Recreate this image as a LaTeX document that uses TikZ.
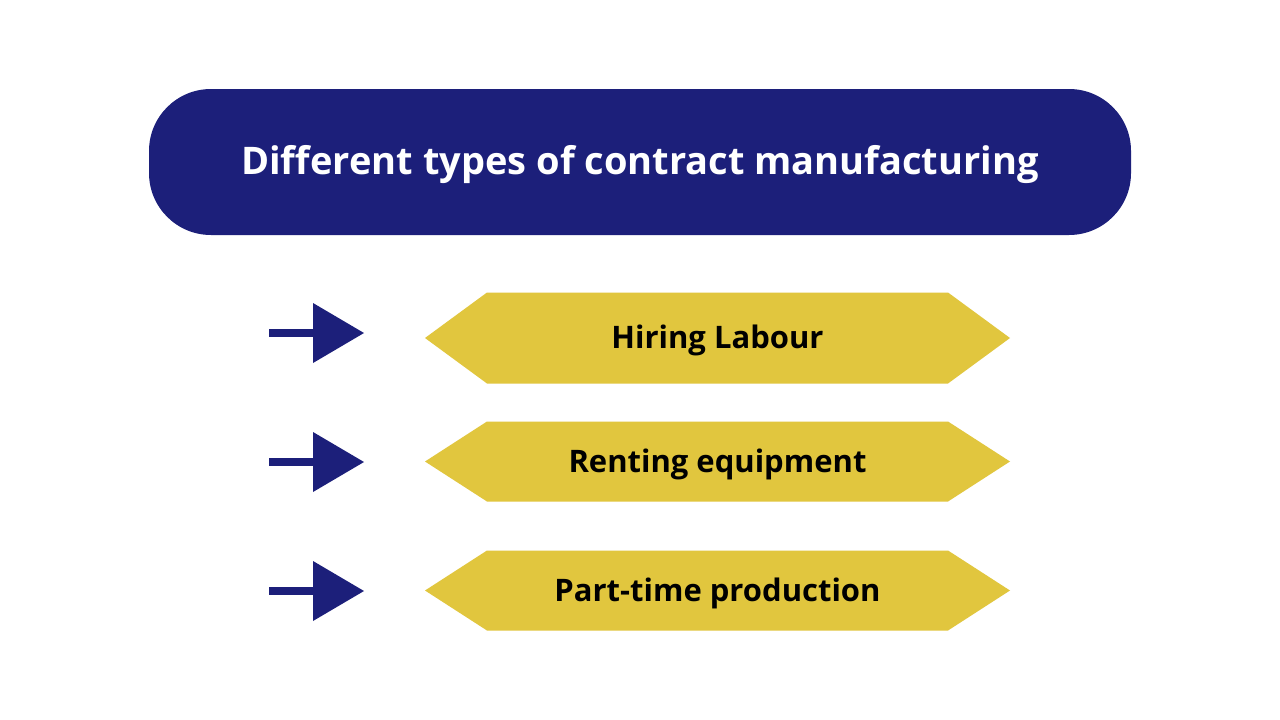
\documentclass[tikz,border=0pt]{standalone}
\usepackage{fontspec}
\setmainfont{Open Sans}
\definecolor{navy}{HTML}{1C1F7A}
\definecolor{gold}{HTML}{E1C63E}
\begin{document}
\begin{tikzpicture}[x=1pt,y=-1pt,
  titlebox/.style={fill=navy,rounded corners=62pt,minimum width=982pt,minimum height=146pt,inner sep=0pt},
  titletext/.style={text=white,font=\bfseries\fontsize{38}{44}\selectfont,inner sep=0pt},
  itemtext/.style={text=black,font=\bfseries\fontsize{31}{36}\selectfont,inner sep=0pt},
  hexfill/.style={fill=gold},
  arrowfill/.style={fill=navy}]
\useasboundingbox (0,0) rectangle (1280,720);
\fill[white] (0,0) rectangle (1280,720);
\node[titlebox] (title) at (640,162) {};
\node[titletext] (titlelabel) at (640,165) {Different types of contract manufacturing};
\foreach \y/\h/\ay/\t/\n in {338/45.5/333/Hiring Labour/a, 461.5/40/462/Renting equipment/b, 590.5/40/591/Part-time production/c}{
  \fill[hexfill] (425,\y) -- (487,\y-\h) -- (948,\y-\h) -- (1010,\y) -- (948,\y+\h) -- (487,\y+\h) -- cycle;
  \node[itemtext] (\n) at (717.5,\y+2.5) {\t};
  \fill[arrowfill] (269,\ay-4.5) rectangle (314,\ay+4);
  \fill[arrowfill] (313,\ay-30) -- (364,\ay) -- (313,\ay+30) -- cycle;
}
\end{tikzpicture}
\end{document}
